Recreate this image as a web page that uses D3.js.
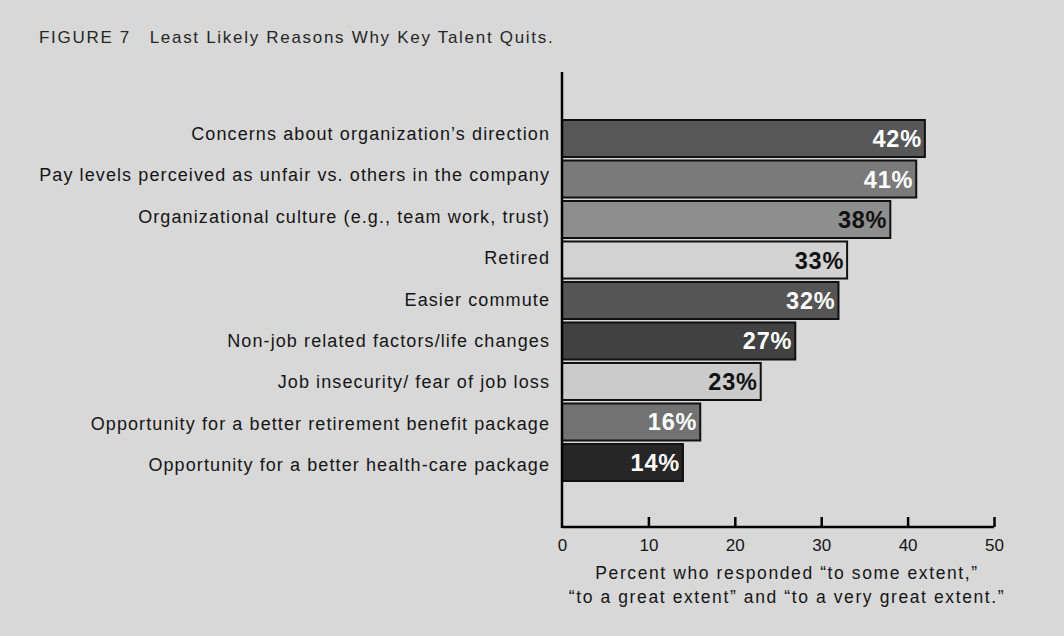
<!DOCTYPE html>
<html>
<head>
<meta charset="utf-8">
<script src="https://cdn.jsdelivr.net/npm/d3@7/dist/d3.min.js"></script>
<style>
  html, body { margin: 0; padding: 0; background: #d8d8d8; }
  svg { display: block; font-family: "Liberation Sans", Arial, Helvetica, sans-serif; }
</style>
</head>
<body>
<svg id="chart" width="1064" height="636"></svg>
<script>
// Survey reasons, ordered top to bottom
const categories = [
  "Concerns about organization\u2019s direction",
  "Pay levels perceived as unfair vs. others in the company",
  "Organizational culture (e.g., team work, trust)",
  "Retired",
  "Easier commute",
  "Non-job related factors/life changes",
  "Job insecurity/ fear of job loss",
  "Opportunity for a better retirement benefit package",
  "Opportunity for a better health-care package"
];
const values = [42, 41, 38, 33, 32, 27, 23, 16, 14];
const barFills = ["#575757", "#7a7a7a", "#8e8e8e", "#d2d2d2", "#555555", "#414141", "#cbcbcb", "#727272", "#262626"];
const labelColors = ["#fff", "#fff", "#111", "#111", "#fff", "#fff", "#111", "#fff", "#fff"];
const xTicks = [0, 10, 20, 30, 40, 50];
const titleText = "FIGURE 7\u2003Least Likely Reasons Why Key Talent Quits.";
const axisTitle = [
  "Percent who responded \u201cto some extent,\u201d",
  "\u201cto a great extent\u201d and \u201cto a very great extent.\u201d"
];

const svg = d3.select("#chart");
const x0 = 562, x1 = 994, yTop = 72, yBase = 527;

const x = d3.scaleLinear().domain([0, 50]).range([x0, x1]);
const y = d3.scaleBand().domain(categories).range([120, 481]).paddingInner(0.086).paddingOuter(0);
// Baselines for the category text column
const yLabel = d3.scalePoint().domain(categories).range([140, 471]);

// Title
svg.append("text")
  .attr("x", 39).attr("y", 43)
  .attr("font-size", 17).attr("fill", "#262626")
  .style("letter-spacing", "1.7px")
  .text(titleText);

// Bars
const g = svg.append("g");
g.selectAll("rect.bar").data(values).join("rect")
  .attr("class", "bar")
  .attr("x", x(0))
  .attr("y", (d, i) => y(categories[i]))
  .attr("width", d => x(d) - x(0))
  .attr("height", y.bandwidth())
  .attr("fill", (d, i) => barFills[i])
  .attr("stroke", "#111").attr("stroke-width", 2);

// Value labels inside bar ends
g.selectAll("text.val").data(values).join("text")
  .attr("class", "val")
  .attr("x", d => x(d) - 3)
  .attr("y", (d, i) => y(categories[i]) + y.bandwidth() / 2 + 8.5)
  .attr("text-anchor", "end")
  .attr("font-size", 23.5).attr("font-weight", "bold")
  .style("letter-spacing", "0.8px")
  .attr("fill", (d, i) => labelColors[i])
  .text(d => d + "%");

// Category labels
svg.selectAll("text.cat").data(categories).join("text")
  .attr("class", "cat")
  .attr("x", 550)
  .attr("y", d => yLabel(d))
  .attr("text-anchor", "end")
  .attr("font-size", 18).attr("fill", "#151515")
  .style("letter-spacing", "1.1px")
  .text(d => d);

// Vertical axis line
svg.append("line")
  .attr("x1", x0).attr("x2", x0).attr("y1", yTop).attr("y2", yBase + 1)
  .attr("stroke", "#000").attr("stroke-width", 2.5);

// Horizontal axis with inward ticks
const xAxis = d3.axisBottom(x).tickValues(xTicks).tickSize(-10).tickPadding(10).tickFormat(d3.format("d"));
const ax = svg.append("g").attr("transform", `translate(0,${yBase})`).call(xAxis);
ax.select(".domain").attr("stroke", "#000").attr("stroke-width", 2.5)
  .attr("d", `M${x0},0H${x1}`);
ax.selectAll(".tick line").attr("stroke", "#000").attr("stroke-width", 2.5)
  .filter(d => d === 0).remove();
ax.selectAll(".tick text")
  .attr("font-size", 17).attr("fill", "#151515")
  .attr("font-family", "Liberation Sans, Arial, sans-serif")
  .attr("dy", "0.85em");

// Axis title
svg.selectAll("text.axt").data(axisTitle).join("text")
  .attr("class", "axt")
  .attr("x", 787)
  .attr("y", (d, i) => 579 + i * 24)
  .attr("text-anchor", "middle")
  .attr("font-size", 17.5).attr("fill", "#151515")
  .style("letter-spacing", "1.6px")
  .text(d => d);
</script>
</body>
</html>
